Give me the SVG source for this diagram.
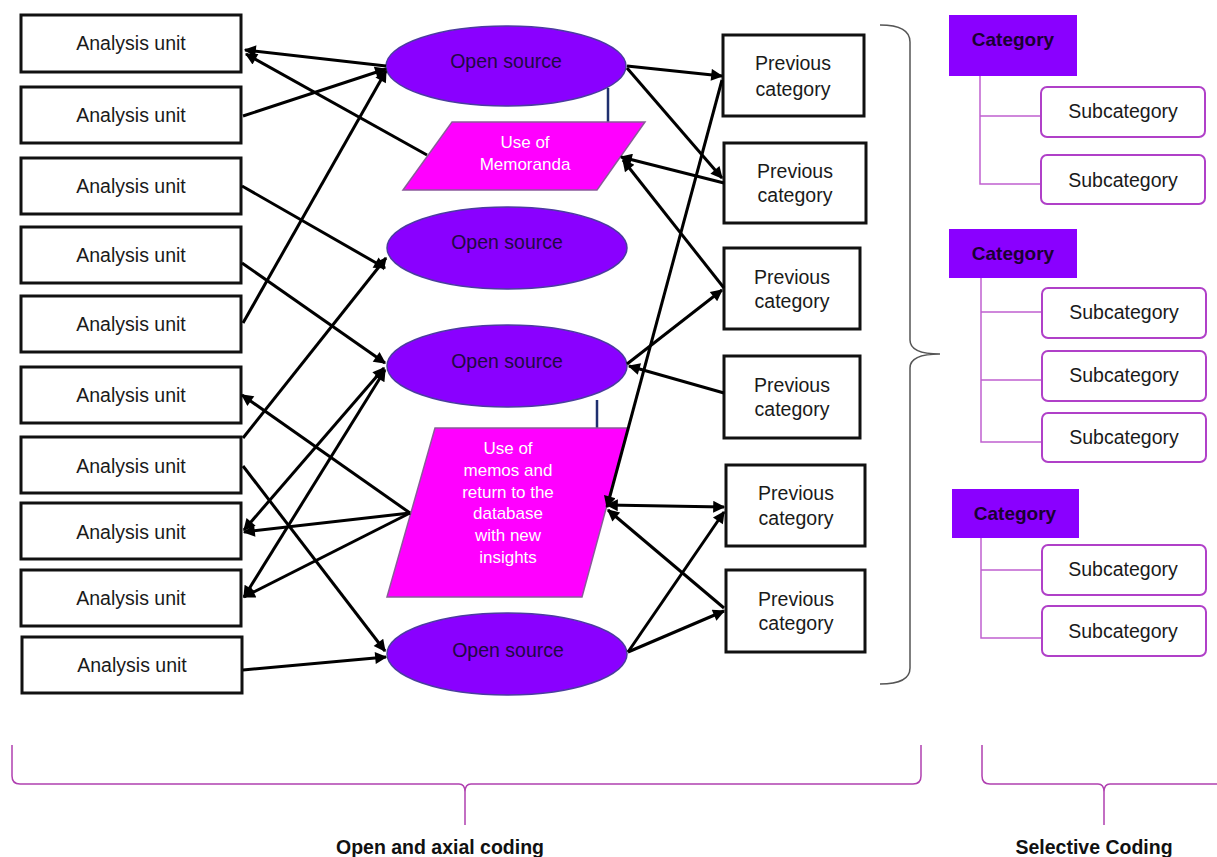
<svg xmlns="http://www.w3.org/2000/svg" width="1217" height="857" viewBox="0 0 1217 857">
<style>
.au rect{fill:#fff;stroke:#111;stroke-width:3}
.t{font-family:"Liberation Sans",Arial,sans-serif;font-size:19.5px;fill:#1a1a1a;text-anchor:middle;dominant-baseline:central}
.os ellipse{fill:#8a00ff;stroke:#4b3ca0;stroke-width:1.5}
.ot{font-family:"Liberation Sans",Arial,sans-serif;font-size:19.5px;fill:#220844;text-anchor:middle;dominant-baseline:central}
.memo polygon{fill:#ff00ff;stroke:#8a5a9a;stroke-width:1.5}
.wt{font-family:"Liberation Sans",Arial,sans-serif;font-size:17px;fill:#fff;text-anchor:middle;dominant-baseline:central}
.cat rect{fill:#8a00ff}
.ct{font-family:"Liberation Sans",Arial,sans-serif;font-size:19px;font-weight:bold;fill:#1a0033;text-anchor:middle;dominant-baseline:central}
.sub rect{fill:#fff;stroke:#b040c8;stroke-width:2}
.tree{fill:none;stroke:#c060d0;stroke-width:1.5}
.conn line{stroke:#000;stroke-width:3}
.lt{font-family:"Liberation Sans",Arial,sans-serif;font-size:19.5px;font-weight:bold;fill:#111;text-anchor:middle}
</style>
<defs>
<marker id="ah" viewBox="0 0 10 10" refX="9" refY="5" markerWidth="15" markerHeight="12" markerUnits="userSpaceOnUse" orient="auto-start-reverse">
<path d="M0,0 L10,5 L0,10 z" fill="#000"/>
</marker>
</defs>

<!-- Analysis units -->
<g id="au1" class="au"><rect x="21" y="15" width="220" height="57"/><text class="t" x="131" y="43">Analysis unit</text></g>
<g id="au2" class="au"><rect x="21" y="87" width="220" height="56"/><text class="t" x="131" y="115">Analysis unit</text></g>
<g id="au3" class="au"><rect x="21" y="158" width="220" height="56"/><text class="t" x="131" y="186">Analysis unit</text></g>
<g id="au4" class="au"><rect x="21" y="227" width="220" height="56"/><text class="t" x="131" y="255">Analysis unit</text></g>
<g id="au5" class="au"><rect x="21" y="296" width="220" height="56"/><text class="t" x="131" y="324">Analysis unit</text></g>
<g id="au6" class="au"><rect x="21" y="367" width="220" height="56"/><text class="t" x="131" y="395">Analysis unit</text></g>
<g id="au7" class="au"><rect x="21" y="437" width="220" height="56"/><text class="t" x="131" y="466">Analysis unit</text></g>
<g id="au8" class="au"><rect x="21" y="503" width="220" height="56"/><text class="t" x="131" y="532">Analysis unit</text></g>
<g id="au9" class="au"><rect x="21" y="570" width="220" height="56"/><text class="t" x="131" y="598">Analysis unit</text></g>
<g id="au10" class="au"><rect x="22" y="637" width="220" height="56"/><text class="t" x="132" y="665">Analysis unit</text></g>

<!-- links between shapes -->
<g id="ties" stroke="#1f2f6f" stroke-width="2.5">
<line x1="608" y1="88" x2="608" y2="122"/>
<line x1="597" y1="400" x2="597" y2="428"/>
</g>

<!-- Open source ellipses -->
<g id="os1" class="os"><ellipse cx="506" cy="66" rx="120" ry="40"/><text class="ot" x="506" y="61">Open source</text></g>
<g id="os2" class="os"><ellipse cx="507" cy="248" rx="120" ry="41"/><text class="ot" x="507" y="242">Open source</text></g>
<g id="os3" class="os"><ellipse cx="507" cy="366" rx="120" ry="41"/><text class="ot" x="507" y="361">Open source</text></g>
<g id="os4" class="os"><ellipse cx="507" cy="654" rx="120" ry="41"/><text class="ot" x="508" y="650">Open source</text></g>

<!-- Memo shapes -->
<g id="memo1" class="memo"><polygon points="452,122 645,122 597,190 403,190"/>
<text class="wt" x="525" y="142">Use of</text><text class="wt" x="525" y="164">Memoranda</text></g>
<g id="memo2" class="memo"><polygon points="435,428 628,428 582,597 387,597"/>
<text class="wt" x="508" y="448">Use of</text><text class="wt" x="508" y="470">memos and</text><text class="wt" x="508" y="492">return to the</text><text class="wt" x="508" y="513">database</text><text class="wt" x="508" y="535">with new</text><text class="wt" x="508" y="557">insights</text></g>

<!-- Previous categories -->
<g id="pc1" class="au"><rect x="723" y="35" width="141" height="81"/><text class="t" x="793" y="63">Previous</text><text class="t" x="793" y="89">category</text></g>
<g id="pc2" class="au"><rect x="724" y="143" width="142" height="80"/><text class="t" x="795" y="171">Previous</text><text class="t" x="795" y="195">category</text></g>
<g id="pc3" class="au"><rect x="724" y="248" width="136" height="81"/><text class="t" x="792" y="277">Previous</text><text class="t" x="792" y="301">category</text></g>
<g id="pc4" class="au"><rect x="724" y="356" width="136" height="82"/><text class="t" x="792" y="385">Previous</text><text class="t" x="792" y="409">category</text></g>
<g id="pc5" class="au"><rect x="726" y="465" width="139" height="81"/><text class="t" x="796" y="493">Previous</text><text class="t" x="796" y="518">category</text></g>
<g id="pc6" class="au"><rect x="726" y="570" width="139" height="82"/><text class="t" x="796" y="599">Previous</text><text class="t" x="796" y="623">category</text></g>

<!-- connectors -->
<g id="connectors" class="conn" marker-end="url(#ah)">
<line x1="386" y1="66" x2="245" y2="50"/>
<line x1="427" y1="155" x2="246" y2="54"/>
<line x1="243" y1="116" x2="386" y2="69"/>
<line x1="243" y1="323" x2="386" y2="71"/>
<line x1="242" y1="186" x2="385" y2="268"/>
<line x1="243" y1="438" x2="386" y2="258"/>
<line x1="242" y1="263" x2="385" y2="363"/>
<line x1="244" y1="530" x2="384" y2="368" marker-start="url(#ah)"/>
<line x1="244" y1="597" x2="385" y2="370" marker-start="url(#ah)"/>
<line x1="410" y1="513" x2="242" y2="395"/>
<line x1="410" y1="513" x2="244" y2="532"/>
<line x1="410" y1="513" x2="244" y2="597"/>
<line x1="243" y1="466" x2="385" y2="651"/>
<line x1="243" y1="670" x2="386" y2="657"/>
<line x1="627" y1="66" x2="722" y2="76"/>
<line x1="627" y1="68" x2="722" y2="178"/>
<line x1="724" y1="183" x2="621" y2="157"/>
<line x1="724" y1="288" x2="623" y2="160"/>
<line x1="722" y1="80" x2="607" y2="507"/>
<line x1="627" y1="364" x2="722" y2="290"/>
<line x1="724" y1="393" x2="629" y2="366"/>
<line x1="607" y1="505" x2="724" y2="507" marker-start="url(#ah)"/>
<line x1="724" y1="608" x2="608" y2="510"/>
<line x1="628" y1="652" x2="724" y2="512"/>
<line x1="628" y1="652" x2="724" y2="611"/>
</g>

<!-- right brace -->
<g id="brace-right"><path d="M880,25 Q910,25 910,42 L910,340 Q910,354 940,354 Q910,354 910,368 L910,668 Q910,684 880,684" fill="none" stroke="#555" stroke-width="1.5"/></g>

<!-- Selective coding categories -->
<g id="tree1">
<path class="tree" d="M980,76 V184 H1041 M980,116 H1041"/>
<g class="cat"><rect x="949" y="15" width="128" height="61"/><text class="ct" x="1013" y="39">Category</text></g>
<g class="sub"><rect x="1041" y="87" width="164" height="50" rx="6"/><text class="t" x="1123" y="111">Subcategory</text></g>
<g class="sub"><rect x="1041" y="155" width="164" height="49" rx="6"/><text class="t" x="1123" y="180">Subcategory</text></g>
</g>
<g id="tree2">
<path class="tree" d="M981,278 V442 H1042 M981,312 H1042 M981,380 H1042"/>
<g class="cat"><rect x="949" y="229" width="128" height="49"/><text class="ct" x="1013" y="253">Category</text></g>
<g class="sub"><rect x="1042" y="288" width="164" height="50" rx="6"/><text class="t" x="1124" y="312">Subcategory</text></g>
<g class="sub"><rect x="1042" y="351" width="164" height="50" rx="6"/><text class="t" x="1124" y="375">Subcategory</text></g>
<g class="sub"><rect x="1042" y="413" width="164" height="49" rx="6"/><text class="t" x="1124" y="437">Subcategory</text></g>
</g>
<g id="tree3">
<path class="tree" d="M981,538 V638 H1042 M981,570 H1042"/>
<g class="cat"><rect x="952" y="489" width="127" height="49"/><text class="ct" x="1015" y="513">Category</text></g>
<g class="sub"><rect x="1042" y="545" width="164" height="50" rx="6"/><text class="t" x="1123" y="569">Subcategory</text></g>
<g class="sub"><rect x="1042" y="606" width="164" height="50" rx="6"/><text class="t" x="1123" y="631">Subcategory</text></g>
</g>

<!-- bottom braces and labels -->
<g id="brace-open"><path d="M12,745 L12,776 Q12,784 20,784 L459,784 Q465,784 465,792 L465,825 L465,792 Q465,784 471,784 L913,784 Q921,784 921,776 L921,745" fill="none" stroke="#b040b0" stroke-width="1.5"/>
<text class="lt" x="440" y="854">Open and axial coding</text></g>
<g id="brace-selective"><path d="M982,745 L982,776 Q982,784 990,784 L1098,784 Q1104,784 1104,792 L1104,825 L1104,792 Q1104,784 1110,784 L1217,784" fill="none" stroke="#b040b0" stroke-width="1.5"/>
<text class="lt" x="1094" y="854">Selective Coding</text></g>
</svg>
